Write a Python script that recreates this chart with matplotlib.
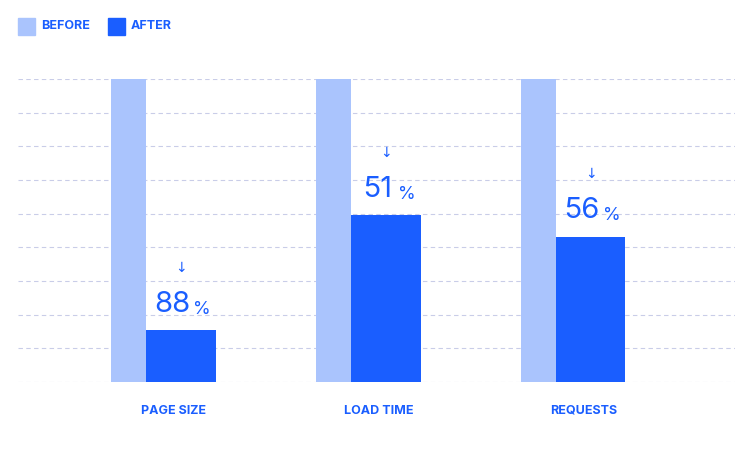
import matplotlib
matplotlib.use("Agg")
import matplotlib.pyplot as plt
from matplotlib.patches import Rectangle

categories = ["PAGE SIZE", "LOAD TIME", "REQUESTS"]
before = [100, 100, 100]
after = [17, 55, 48]
reduction = ["88", "51", "56"]

C_BEFORE = "#aac4fd"
C_AFTER = "#1a5eff"
W, H = 754, 468
fig = plt.figure(figsize=(W/100, H/100), dpi=100)
ax = fig.add_axes([18/W, (H-382)/H, 717/W, 303/H])
ax.set_xlim(0, 3.5)
ax.set_ylim(0, 100)
for s in ax.spines.values():
    s.set_visible(False)
ax.set_xticks([]); ax.set_yticks([])
for k in range(10):
    ax.axhline(k*100/9, color="#c9cde8", lw=0.8, ls=(0, (4, 3)), zorder=0)

for i, c in enumerate(categories):
    ax.bar(i+0.54, before[i], width=0.17, color=C_BEFORE, zorder=2)
    ax.bar(i+0.795, after[i], width=0.34, color=C_AFTER, zorder=2)
    ax.text(i+0.76, -9.5, c, ha="center", va="center", fontsize=9, fontweight="bold",
            color=C_AFTER, family="Inter")
    ax.annotate(reduction[i], (i+0.795, after[i]), xytext=(-6, 9), textcoords="offset points",
                ha="center", va="bottom", fontsize=21, color=C_AFTER, family="Inter")
    ax.annotate("%", (i+0.795, after[i]), xytext=(15, 9), textcoords="offset points",
                ha="center", va="bottom", fontsize=13, color=C_AFTER, family="Inter")
    ax.annotate("↓", (i+0.795, after[i]), xytext=(0, 40), textcoords="offset points",
                ha="center", va="bottom", fontsize=10, color=C_AFTER, family="DejaVu Sans")

for x0, lab, col in [(18, "BEFORE", C_BEFORE), (108, "AFTER", C_AFTER)]:
    fig.patches.append(Rectangle((x0/W, (H-35)/H), 17/W, 17/H, color=col, transform=fig.transFigure))
    fig.text((x0+23)/W, (H-26)/H, lab, ha="left", va="center", fontsize=9, fontweight="bold",
             color=C_AFTER, family="Inter")

fig.savefig("out.png", dpi=100, facecolor="white")
